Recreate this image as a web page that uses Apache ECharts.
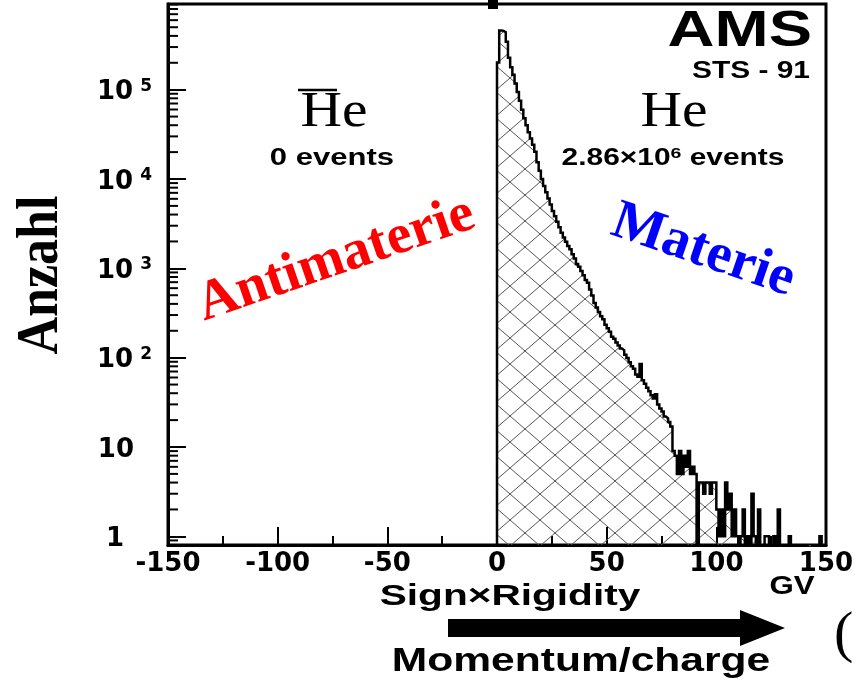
<!DOCTYPE html>
<html><head><meta charset="utf-8">
<script src="https://cdn.jsdelivr.net/npm/echarts@6/dist/echarts.min.js"></script>
<style>html,body{margin:0;padding:0;background:#fff}#c{width:856px;height:691px}</style>
</head><body><div id="c"></div>
<script>
// ---- data ----
const binStart = 0;      // GV, first He bin lower edge
const binWidth = 1;      // GV per bin
// He counts per 1-GV bin from 0 to 150 GV
const heCounts = [
  201000, 460000, 455000, 440000, 343000, 227000, 178000, 147000, 117000, 94400,
  75000, 59700, 48000, 40000, 33300, 28400, 24200, 20200, 15400, 12400,
  9970, 8360, 7120, 6070, 5180, 4390, 3840, 3320, 2890, 2500,
  2210, 1980, 1780, 1640, 1440, 1290, 1120, 1040, 935, 835,
  742, 690, 580, 497, 410, 365, 325, 291, 270, 233,
  213, 195, 172, 163, 148, 137, 127, 121, 108, 99,
  89, 80, 75, 65, 61, 85, 56, 51, 46, 42,
  38, 35, 39, 30, 27, 25, 22, 21, 19, 17,
  9, 8, 5, 9, 5, 8, 6, 9, 5, 6,
  5, 0, 4, 4, 3, 4, 4, 3, 4, 4,
  2, 1, 2, 1, 4, 2, 3, 1, 2, 1,
  0, 1, 2, 0, 1, 0, 3, 1, 0, 2,
  0, 0, 1, 1, 0, 0, 1, 0, 2, 0,
  0, 0, 0, 1, 0, 0, 0, 0, 0, 0,
  0, 0, 0, 0, 0, 0, 0, 1, 0, 0
];
// anti-helium: 0 events on the negative side
const antiHeCounts = [];
const xTickValues = [-150, -100, -50, 0, 50, 100, 150];
const yDecadeExponents = [0, 1, 2, 3, 4, 5];
const yMin = 0.8, yMax = 9.1e5;

// ---- build ----
const FLOOR = 0.5; // empty bins drawn below the axis (clipped)
const histPts = [[binStart, FLOOR]];
heCounts.forEach((c, i) => histPts.push([binStart + i * binWidth, c > 0 ? c : FLOOR]));
histPts.push([binStart + heCounts.length * binWidth, FLOOR]);

const yMinorTicks = [];
for (let d = -1; d <= 5; d++) for (let m = 2; m <= 9; m++) {
  const v = m * Math.pow(10, d);
  if (v >= yMin && v <= yMax) yMinorTicks.push([-150, v]);
}

function hatch(w, h, color) {
  const c = document.createElement('canvas'); c.width = w; c.height = h;
  const g = c.getContext('2d'); g.strokeStyle = color; g.lineWidth = 1;
  g.beginPath(); g.moveTo(0, 0); g.lineTo(w, h); g.moveTo(w, 0); g.lineTo(0, h); g.stroke();
  return c;
}

const SANS = '"Liberation Sans", Arial, sans-serif';
const SERIF = '"Liberation Serif", "Times New Roman", serif';
const AX = '"DejaVu Sans", sans-serif';

function T(text, x, y, font, opt) {
  opt = opt || {};
  return {
    type: 'text', x: x, y: y, rotation: opt.rot || 0,
    scaleX: opt.sx || 1, scaleY: opt.sy || 1, z: 100,
    style: Object.assign({
      text: text, font: font, fill: opt.fill || '#000',
      textAlign: opt.align || 'center', textVerticalAlign: 'middle',
      align: opt.align || 'center', verticalAlign: 'middle'
    }, opt.style || {})
  };
}

const chart = echarts.init(document.getElementById('c'), null, { renderer: 'canvas' });
chart.setOption({
  animation: false,
  backgroundColor: '#fff',
  grid: { left: 168, right: 30, top: 4, bottom: 146, show: true, borderColor: '#000', borderWidth: 3,
          backgroundColor: 'transparent', containLabel: false, outerBoundsMode: 'none' },
  xAxis: {
    type: 'value', min: -150, max: 150, interval: 50,
    axisLine: { show: true, onZero: false, lineStyle: { color: '#000', width: 3 } },
    axisTick: { show: true, inside: true, length: 18, lineStyle: { color: '#000', width: 2 } },
    minorTick: { show: true, splitNumber: 2, length: 9, lineStyle: { color: '#000', width: 2 } },
    splitLine: { show: false },
    axisLabel: {
      margin: 6, color: '#000', fontFamily: AX, fontWeight: 'bold', fontSize: 26,
      formatter: v => xTickValues.indexOf(v) >= 0 ? String(v) : ''
    }
  },
  yAxis: {
    type: 'log', logBase: 10, min: yMin, max: yMax,
    axisLine: { show: true, onZero: false, lineStyle: { color: '#000', width: 3 } },
    axisTick: { show: true, inside: true, length: 18, lineStyle: { color: '#000', width: 2 } },
    splitLine: { show: false },
    axisLabel: {
      margin: 16, color: '#000', padding: [6, 0, 0, 0],
      formatter: function (v) {
        const l = Math.log10(v), e = Math.round(l);
        if (Math.abs(l - e) > 1e-6 || yDecadeExponents.indexOf(e) < 0) return '';
        if (e === 0) return '{b|1}{p1|}';
        if (e === 1) return '{b|10}{p2|}';
        return '{b|10}{s|' + e + '}';
      },
      rich: {
        b: { fontFamily: AX, fontWeight: 'bold', fontSize: 26, color: '#000', lineHeight: 30 },
        s: { fontFamily: AX, fontWeight: 'bold', fontSize: 17, color: '#000', verticalAlign: 'top', padding: [0, 0, 0, 7], lineHeight: 18 },
        p1: { width: 28 },
        p2: { width: 18 }
      }
    }
  },
  series: [
    {
      type: 'line', data: histPts, step: 'end', symbol: 'none', clip: true,
      lineStyle: { color: '#000', width: 2.5, join: 'miter' },
      areaStyle: { origin: 'start', opacity: 1, color: { image: hatch(30, 26, '#555'), repeat: 'repeat' } },
      z: 3
    },
    {
      type: 'custom', data: yMinorTicks, silent: true, z: 5,
      renderItem: function (params, api) {
        const p = api.coord([api.value(0), api.value(1)]);
        return { type: 'line', shape: { x1: p[0], y1: p[1], x2: p[0] + 10, y2: p[1] }, style: { stroke: '#000', lineWidth: 2 } };
      }
    }
  ],
  graphic: { elements: [
    { type: 'rect', shape: { x: 488, y: 0, width: 10, height: 9 }, style: { fill: '#000' }, z: 100 },
    T('AMS', 812, 32, 'bold 50px ' + SANS, { align: 'right', sx: 1.3 }),
    T('STS - 91', 810, 71.5, 'bold 23px ' + SANS, { align: 'right', sx: 1.3 }),
    T('He', 334, 113, '50px ' + SERIF, { sx: 1.15 }),
    { type: 'line', shape: { x1: 298, y1: 90, x2: 337, y2: 90 }, style: { stroke: '#000', lineWidth: 2.5 }, z: 100 },
    T('He', 674, 113, '50px ' + SERIF, { sx: 1.15 }),
    T('0 events', 332, 159, 'bold 23px ' + SANS, { sx: 1.35 }),
    {
      type: 'text', x: 673, y: 159, scaleX: 1.3, z: 100,
      style: {
        text: '{a|2.86\u00d710}{s|6}{a| events}',
        textAlign: 'center', textVerticalAlign: 'middle', align: 'center', verticalAlign: 'middle',
        rich: {
          a: { font: 'bold 23px ' + SANS, fill: '#000', color: '#000', lineHeight: 26 },
          s: { font: 'bold 15px ' + SANS, fill: '#000', color: '#000', verticalAlign: 'top', lineHeight: 14 }
        }
      }
    },
    T('Antimaterie', 336, 260, 'bold 56px ' + SERIF, { rot: 19 * Math.PI / 180, fill: '#ff0000' }),
    T('Materie', 703, 251, 'bold 56px ' + SERIF, { rot: -19 * Math.PI / 180, fill: '#0000ff' }),
    T('Anzahl', 42, 275, 'bold 52px ' + SERIF, { rot: Math.PI / 2, sy: 1.12 }),
    T('Sign\u00d7Rigidity', 510, 597, 'bold 29px ' + SANS, { sx: 1.4 }),
    T('GV', 792, 587, 'bold 25px ' + SANS, { sx: 1.25 }),
    {
      type: 'polygon', z: 100,
      shape: { points: [[448, 619], [740, 619], [740, 610], [785, 628], [740, 646], [740, 637], [448, 637]] },
      style: { fill: '#000' }
    },
    T('Momentum/charge', 581, 662, 'bold 33px ' + SANS, { sx: 1.29 }),
    T('(', 834, 636, '58px ' + SERIF, { align: 'left' })
  ] }
});
</script></body></html>
